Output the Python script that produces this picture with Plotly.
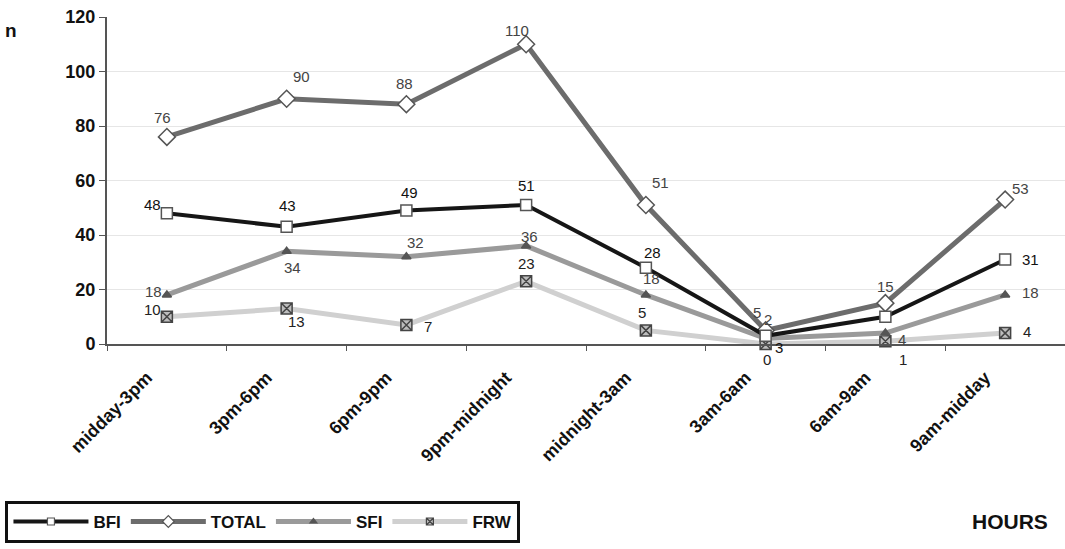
import plotly.graph_objects as go

# Time windows (x categories)
periods = ["midday-3pm", "3pm-6pm", "6pm-9pm", "9pm-midnight",
           "midnight-3am", "3am-6am", "6am-9am", "9am-midday"]

# Counts per series
bfi = [48, 43, 49, 51, 28, 3, 10, 31]
total = [76, 90, 88, 110, 51, 5, 15, 53]
sfi = [18, 34, 32, 36, 18, 2, 4, 18]
frw = [10, 13, 7, 23, 5, 0, 1, 4]

y_ticks = [0, 20, 40, 60, 80, 100, 120]

FONT = "Liberation Sans, Arial, sans-serif"

# Value-label offsets in pixels (dx right, dy up) per point; None hides the label
label_offsets = {
    "TOTAL": [(-4, 19), (15, 22), (-2, 21), (-9, 14), (15, 23), (-9, 18), (0, 17), (15, 11)],
    "BFI":   [(-14, 9), (1, 21), (3, 18), (0, 20), (7, 15), (13, -12), None, (25, 0)],
    "SFI":   [(-13, 3), (6, -16), (9, 14), (3, 9), (6, 16), (2, 19), (17, -6), (25, 2)],
    "FRW":   [(-14, 7), (10, -13), (22, -2), (0, 18), (-4, 18), (1, -15), (18, -18), (22, 2)],
}

fig = go.Figure()
annotations = []
legend_entries = []

def add_series(name, values, line_color, width, symbol, mfill, mline, msize, label_color):
    fig.add_trace(go.Scatter(
        x=periods, y=values, name=name, showlegend=False,
        mode="lines+markers",
        line=dict(color=line_color, width=width),
        marker=dict(symbol=symbol, size=msize, color=mfill,
                    line=dict(color=mline, width=1.5)),
        cliponaxis=False,
    ))
    # legend key with a smaller marker
    legend_entries.append(go.Scatter(
        x=[None], y=[None], name=name, mode="lines+markers",
        line=dict(color=line_color, width=width),
        marker=dict(symbol=symbol, size=max(msize - 4, 6), color=mfill,
                    line=dict(color=mline, width=1.2)),
    ))
    for cat, v, off in zip(periods, values, label_offsets[name]):
        if off is None:
            continue
        annotations.append(dict(
            x=cat, y=v, xref="x", yref="y", text=str(v), showarrow=False,
            xshift=off[0], yshift=off[1], xanchor="center", yanchor="middle",
            font=dict(family=FONT, size=15, color=label_color),
        ))

# Lightest series drawn first so the darker lines sit on top
add_series("FRW", frw, "#d0d0d0", 5, "square-x", "#bdbdbd", "#444", 11, "#222")
add_series("SFI", sfi, "#9a9a9a", 5, "triangle-up", "#555", "#555", 8, "#444")
add_series("TOTAL", total, "#6c6c6c", 5, "diamond", "white", "#555", 13, "#444")
add_series("BFI", bfi, "#161616", 4, "square", "white", "#555", 11, "#111")

for tr in legend_entries:
    fig.add_trace(tr)

annotations += [
    dict(text="<b>n</b>", xref="paper", yref="paper", x=-0.1, y=0.96,
         xanchor="center", yanchor="middle", showarrow=False,
         font=dict(family=FONT, size=19, color="#111")),
    dict(text="<b>HOURS</b>", xref="paper", yref="paper", x=0.943, y=-0.542,
         xanchor="center", yanchor="middle", showarrow=False,
         font=dict(family=FONT, size=21, color="#111")),
]

fig.update_layout(
    width=1065, height=549,
    margin=dict(l=107, r=0, t=17, b=205),
    paper_bgcolor="white", plot_bgcolor="white",
    font=dict(family=FONT, color="#111"),
    showlegend=True,
    legend=dict(
        orientation="h", traceorder="reversed",
        x=-0.106, y=-0.48, xanchor="left", yanchor="top",
        bordercolor="#111", borderwidth=3,
        font=dict(family=FONT, size=17, color="#111", weight="bold"),
        itemwidth=75,
    ),
    xaxis=dict(
        type="category", range=[-0.5, 7.5],
        showline=True, linecolor="#555", linewidth=2,
        ticks="outside", tickson="boundaries", ticklen=5, tickcolor="#555",
        tickangle=-45, ticklabelstandoff=14, ticklabelshift=-20,
        tickfont=dict(family=FONT, size=18, color="#111", weight="bold"),
        showgrid=False,
    ),
    yaxis=dict(
        range=[0, 120], tickvals=y_ticks,
        showline=True, linecolor="#555", linewidth=2,
        ticks="outside", ticklen=6, tickcolor="#555",
        tickfont=dict(family=FONT, size=18, color="#111", weight="bold"),
        showgrid=True, gridcolor="#e6e6e6", gridwidth=1,
        zeroline=False,
    ),
    annotations=annotations,
)

fig.write_html("out.html")
